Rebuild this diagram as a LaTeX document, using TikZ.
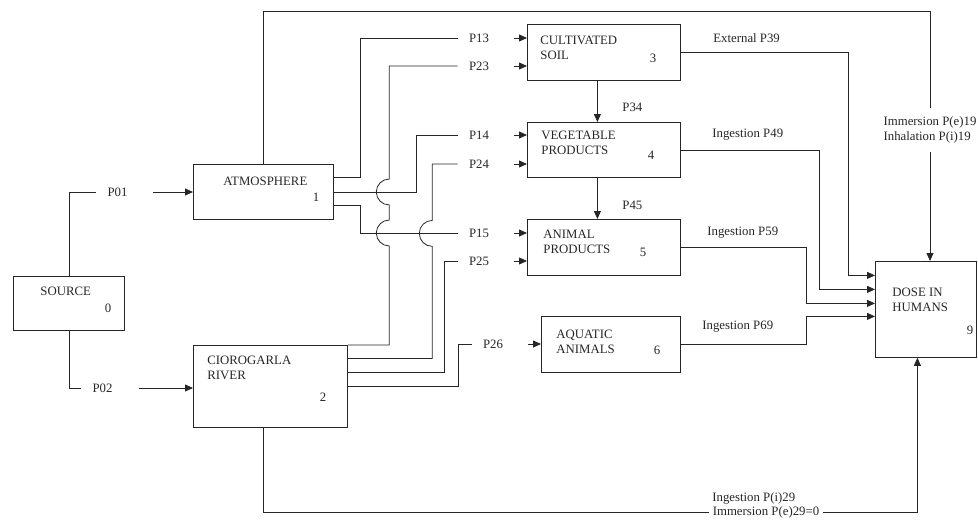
\documentclass[tikz,border=0pt]{standalone}
\usepackage{fontspec}
\setmainfont{Liberation Serif}
\usetikzlibrary{arrows.meta}

\tikzset{
  box/.style={draw, anchor=north west, inner sep=0pt},
  txt/.style={anchor=west, inner sep=0pt, align=left, font=\fontsize{12.8}{15}\selectfont},
  num/.style={txt, anchor=center},
  lbl/.style={inner xsep=11pt, inner ysep=0pt, font=\fontsize{12.8}{15}\selectfont},
  arr/.style={-{Triangle[length=8pt,width=7pt]}},
}

\begin{document}
\begin{tikzpicture}[x=1pt, y=-1pt, line width=0.8pt, color=black!85]
        \useasboundingbox (0,0) rectangle (978,522);
        % boxes
        \node[box, minimum width=111pt, minimum height=54pt] (src) at (13,276) {};
        \node[box, minimum width=140pt, minimum height=55pt] (atm) at (193,164) {};
        \node[box, minimum width=154pt, minimum height=82pt] (riv) at (193,345) {};
        \node[box, minimum width=153pt, minimum height=56pt] (soil) at (527,24) {};
        \node[box, minimum width=153pt, minimum height=55pt] (veg) at (527,122) {};
        \node[box, minimum width=153pt, minimum height=56pt] (anim) at (527,219) {};
        \node[box, minimum width=139pt, minimum height=56pt] (aqua) at (541,316) {};
        \node[box, minimum width=101pt, minimum height=96pt] (dose) at (875,261) {};
        \node[txt] (src-t) at (40,291) {SOURCE};
        \node[num] (src-n) at (108,308) {0};
        \node[txt] (atm-t) at (223,181) {ATMOSPHERE};
        \node[num] (atm-n) at (316,197) {1};
        \node[txt] (riv-t) at (207,368) {CIOROGARLA\\RIVER};
        \node[num] (riv-n) at (323,397) {2};
        \node[txt] (soil-t) at (540,48) {CULTIVATED\\SOIL};
        \node[num] (soil-n) at (653,58) {3};
        \node[txt] (veg-t) at (541,143) {VEGETABLE\\PRODUCTS};
        \node[num] (veg-n) at (651,155) {4};
        \node[txt] (anim-t) at (543,242) {ANIMAL\\PRODUCTS};
        \node[num] (anim-n) at (643,252) {5};
        \node[txt] (aqua-t) at (556,342) {AQUATIC\\ANIMALS};
        \node[num] (aqua-n) at (657,350) {6};
        \node[txt] (dose-t) at (892,300) {DOSE IN\\HUMANS};
        \node[num] (dose-n) at (970,330) {9};
        % transfer labels
        \node[lbl] (p01) at (117.5,192) {P01};
        \node[lbl] (p02) at (102.5,388) {P02};
        \node[lbl] (p13) at (479,38) {P13};
        \node[lbl] (p23) at (479,66) {P23};
        \node[lbl] (p14) at (479,135) {P14};
        \node[lbl] (p24) at (479,164) {P24};
        \node[lbl] (p15) at (479,233) {P15};
        \node[lbl] (p25) at (479,261) {P25};
        \node[lbl] (p26) at (493,344) {P26};
        \node[txt] (p34) at (622,107) {P34};
        \node[txt] (p45) at (622,205) {P45};
        \node[txt] (p39) at (713,38) {External P39};
        \node[txt] (p49) at (712,135) {Ingestion P49};
        \node[txt] (p59) at (707,233) {Ingestion P59};
        \node[txt] (p69) at (702,327) {Ingestion P69};
        \node[num, inner ysep=8pt] (e19) at (930,130) {Immersion P(e)19\\Inhalation P(i)19};
        \node[txt] (i29) at (712,498) {Ingestion P(i)29};
        \node[num, inner xsep=3.5pt] (e29) at (766,512) {Immersion P(e)29=0};
        % source
        \draw (src.north) |- (p01.west);
        \draw[arr] ([xshift=14pt]p01.east) -- (p01 -| atm.west);
        \draw (src.south) |- (p02.west);
        \draw[arr] ([xshift=15pt]p02.east) -- (p02 -| riv.west);
        % atmosphere
        \draw ([yshift=14.5pt]atm.east) -- ++(27,0) |- (p13.west);
        \draw (atm.east) -- ++(83,0) |- (p14.west);
        \draw ([yshift=-13.5pt]atm.east) -- ++(27,0) |- (p15.west);
        \draw (atm.north) -- ++(0,-153) -| (e19.north);
        \draw[arr] (e19.south) -- (e19.south |- dose.north);
        % river, hopping over the atmosphere lines
        \draw (riv.north east) -- ++(41.5,0) -- ++(0,-99)
              arc[start angle=270, end angle=90, radius=13pt] -- ++(0,-15)
              arc[start angle=270, end angle=90, radius=13pt] |- (p23.west);
        \draw ([yshift=28pt]riv.east) -- ++(84.5,0) -- ++(0,-112)
              arc[start angle=270, end angle=90, radius=13pt] |- (p24.west);
        \draw ([yshift=14pt]riv.east) -- ++(97,0) |- (p25.west);
        \draw (riv.east) -- ++(111,0) |- (p26.west);
        \draw ([xshift=-7pt]riv.south) |- (e29.west);
        \draw[arr] (e29.east) -| ([xshift=-8.5pt]dose.south);
        % into the compartments
        \foreach \p/\b in {p13/soil, p23/soil, p14/veg, p24/veg, p15/anim, p25/anim, p26/aqua}
          \draw[arr] ([xshift=14pt]\p.east) -- (\p -| \b.west);
        \draw[arr] ([xshift=-6.5pt]soil.south) -- ([xshift=-6.5pt]veg.north);
        \draw[arr] ([xshift=-6.5pt]veg.south) -- ([xshift=-6.5pt]anim.north);
        % to dose
        \draw[arr] (soil.east) -- ++(168,0) |- ([yshift=34pt]dose.west);
        \draw[arr] (veg.east) -- ++(139,0) |- ([yshift=20pt]dose.west);
        \draw[arr] (anim.east) -- ++(126,0) |- ([yshift=6pt]dose.west);
        \draw[arr] (aqua.east) -- ++(126,0) |- ([yshift=-7pt]dose.west);
\end{tikzpicture}
\end{document}
